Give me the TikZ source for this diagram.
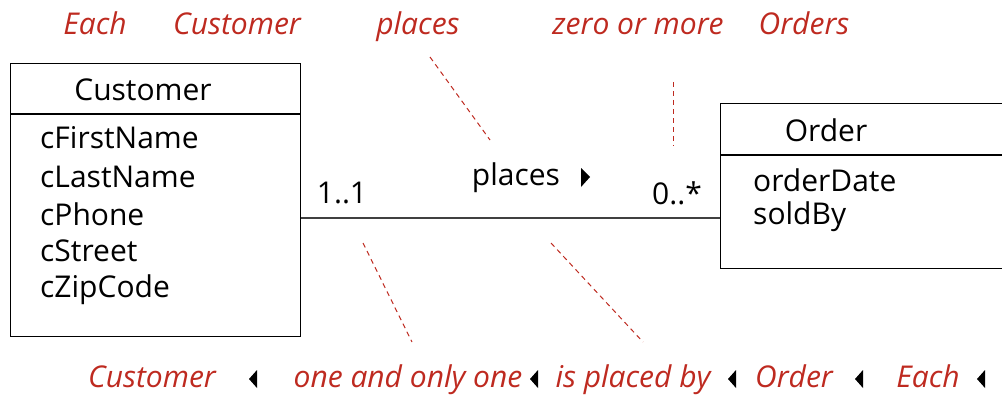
\documentclass[tikz,border=0pt]{standalone}
\usepackage{fontspec}
\setmainfont{Open Sans}
\usetikzlibrary{positioning}
\definecolor{NoteRed}{RGB}{190,42,32}

\begin{document}
\begin{tikzpicture}[
  x=1pt, y=-1pt,
  font=\fontsize{30}{34}\selectfont,
  classbox/.style={draw, line width=1.2pt, anchor=north west, inner sep=0pt},
  attr/.style={anchor=west, inner sep=0pt},
  note/.style={text=NoteRed, font=\fontsize{30}{34}\selectfont\itshape, inner sep=0pt, anchor=base},
  guide/.style={draw=NoteRed, line width=1pt, dash pattern=on 5pt off 4pt},
  assoc/.style={draw=black!75, line width=1.2pt}
]
\useasboundingbox (0,0) rectangle (1002,396);
\clip (0,0) rectangle (1002,396);

% class boxes
\node[classbox, minimum width=290pt, minimum height=273pt] (customer) at (10,63) {};
\node[classbox, minimum width=300pt, minimum height=165pt] (order) at (720,103) {};
\coordinate (custsep) at (0,114);
\coordinate (ordsep) at (0,155);
\draw[line width=1.2pt] (customer.west |- custsep) -- (customer.east |- custsep);
\draw[line width=1.2pt] (order.west |- ordsep) -- (order.east |- ordsep);

\node (custname) at (143,90) {Customer};
\node[attr] (cfirst) at (40,138) {cFirstName};
\node[attr] (clast) at (40,177) {cLastName};
\node[attr] (cphone) at (40,214) {cPhone};
\node[attr] (cstreet) at (40,251) {cStreet};
\node[attr] (czip) at (40,290) {cZipCode};

\node (ordname) at (826,130) {Order};
\node[attr] (odate) at (753,180) {orderDate};
\node[attr] (osold) at (753,217) {soldBy};

% association
\coordinate (link) at (0,218);
\draw[assoc] (customer.east |- link) -- (order.west |- link);
\node (multc) at (342,193) {1..1};
\node (multo) at (677,193) {0..*};
\node (assocname) at (516,178) {places};
\fill (581,168) -- (590,177) -- (581,187) -- cycle;

% reading, forward
\node[note] (tEach) at (95,35) {Each};
\node[note] (tCust) at (237,35) {Customer};
\node[note] (tPlaces) at (418,35) {places};
\node[note] (tZero) at (638,35) {zero or more};
\node[note] (tOrders) at (804,35) {Orders};

% reading, backward
\node[note] (bCust) at (152,387) {Customer};
\node[note] (bOne) at (408,387) {one and only one};
\node[note] (bPlaced) at (633,387) {is placed by};
\node[note] (bOrder) at (794,387) {Order};
\node[note] (bEach) at (928,387) {Each};
\fill (249,379) -- (257,370) -- (257,388) -- cycle;
\fill (530,379) -- (538,370) -- (538,388) -- cycle;
\fill (728,379) -- (736,370) -- (736,388) -- cycle;
\fill (855,379) -- (863,370) -- (863,388) -- cycle;
\fill (977,379) -- (985,370) -- (985,388) -- cycle;

% guide lines
\coordinate (g1a) at (430,57);  \coordinate (g1b) at (490,140);
\coordinate (g2a) at (673,82);  \coordinate (g2b) at (673,146);
\coordinate (g3a) at (363,243); \coordinate (g3b) at (412,342);
\coordinate (g4a) at (551,243); \coordinate (g4b) at (643,342);
\draw[guide] (g1a) -- (g1b);
\draw[guide] (g2a) -- (g2b);
\draw[guide] (g3a) -- (g3b);
\draw[guide] (g4a) -- (g4b);
\end{tikzpicture}
\end{document}
